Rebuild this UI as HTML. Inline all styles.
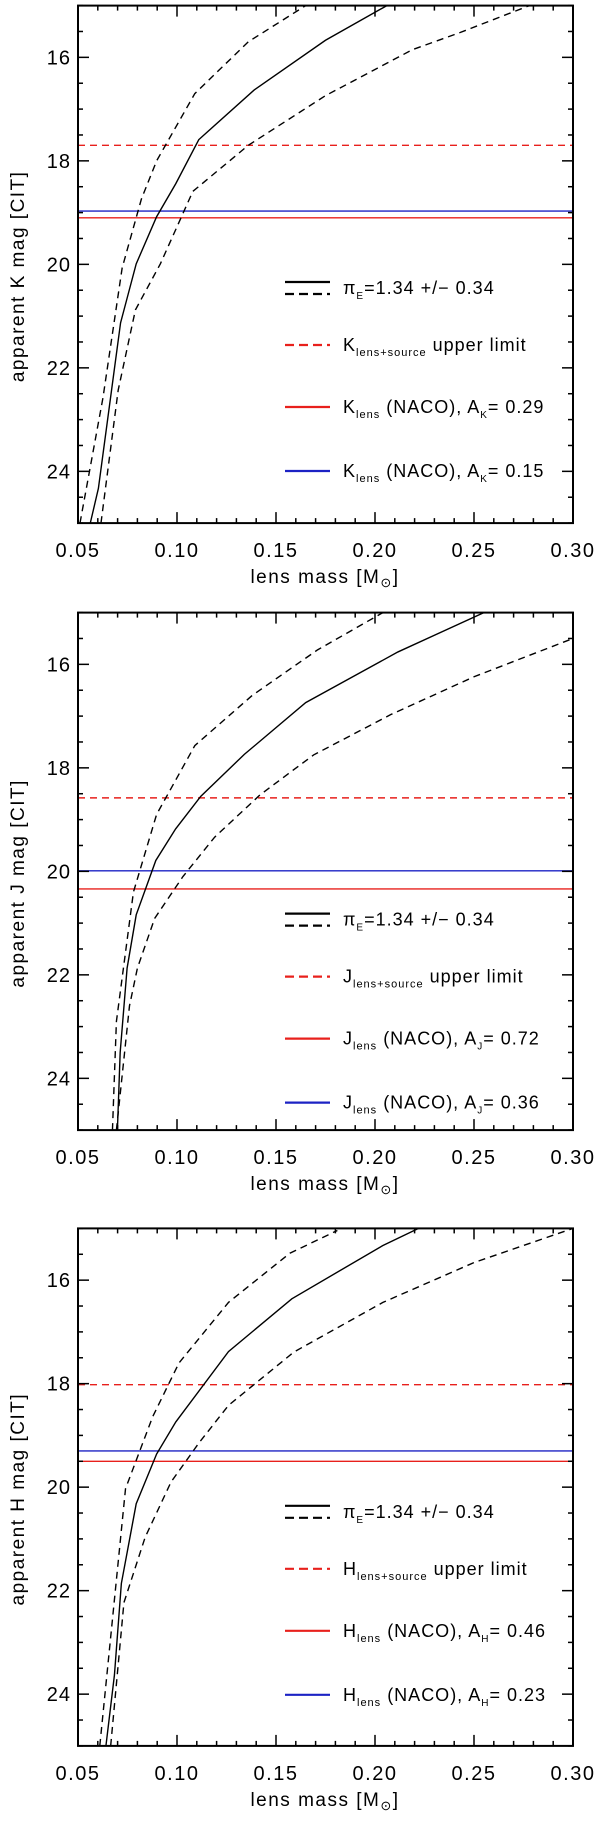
<!DOCTYPE html>
<html><head><meta charset="utf-8"><style>
html,body{margin:0;padding:0;background:#fff;}
svg{display:block;font-family:"Liberation Sans",sans-serif;}
</style></head><body>
<svg id="fig" width="600" height="1835" viewBox="0 0 600 1835" xmlns="http://www.w3.org/2000/svg"></svg>
<script>
// ---- data ----
const xTicks = [0.05, 0.10, 0.15, 0.20, 0.25, 0.30];
const xTickLabels = ["0.05", "0.10", "0.15", "0.20", "0.25", "0.30"];
const yTicks = [16, 18, 20, 22, 24];
const yTickLabels = ["16", "18", "20", "22", "24"];
const bands = ["K", "J", "H"];

// K panel
const kSolidMass = [0.0562,0.0603,0.0715,0.0794,0.0897,0.0994,0.111,0.139,0.175,0.206];
const kSolidMag  = [25,24.33,21.13,19.99,19.08,18.44,17.59,16.63,15.67,15.0];
const kUpMass = [0.051,0.0626,0.0723,0.082,0.0897,0.109,0.136,0.165];
const kUpMag  = [25,22.58,20.07,18.74,18.0,16.7,15.70,15.0];
const kLoMass = [0.0616,0.0703,0.079,0.0916,0.108,0.136,0.175,0.219,0.243,0.278];
const kLoMag  = [25,22.43,20.88,19.99,18.59,17.70,16.74,15.85,15.52,15.0];
const kLimits = [17.70, 19.10, 18.97]; // upper limit, NACO red, NACO blue
const kExt = ["0.29", "0.15"];

// J panel
const jSolidMass = [0.0699,0.0713,0.0748,0.0794,0.0893,0.0993,0.112,0.134,0.165,0.2116,0.255];
const jSolidMag  = [25,23.5,21.87,20.84,19.79,19.18,18.55,17.74,16.74,15.76,15.0];
const jUpMass = [0.0674,0.0694,0.078,0.0897,0.109,0.138,0.171,0.204];
const jUpMag  = [25,22.9,20.4,18.9,17.57,16.6,15.72,15.0];
const jLoMass = [0.0694,0.076,0.080,0.0887,0.103,0.119,0.142,0.169,0.208,0.250,0.30];
const jLoMag  = [25,22.6,21.87,20.91,20.1,19.34,18.52,17.75,16.97,16.24,15.5];
const jLimits = [18.58, 20.34, 19.99];
const jExt = ["0.72", "0.36"];

// H panel
const hSolidMass = [0.0641,0.0684,0.0719,0.0794,0.0897,0.0994,0.126,0.158,0.204,0.222];
const hSolidMag  = [25,23.63,21.86,20.32,19.36,18.74,17.38,16.36,15.33,15.0];
const hUpMass = [0.061,0.0665,0.074,0.0877,0.101,0.126,0.157,0.181];
const hUpMag  = [25,22.9,20.03,18.64,17.6,16.43,15.48,15.04];
const hLoMass = [0.0665,0.0732,0.0839,0.097,0.111,0.126,0.159,0.204,0.250,0.30];
const hLoMag  = [25,22.23,20.97,19.9,19.15,18.42,17.39,16.43,15.66,15.0];
const hLimits = [18.02, 19.50, 19.30];
const hExt = ["0.46", "0.23"];

// ---- drawing ----
const NS = "http://www.w3.org/2000/svg";
const svg = document.getElementById("fig");
const RED = "#e8201c", BLUE = "#1c22c4";
function mk(tag, attrs, parent) {
  const e = document.createElementNS(NS, tag);
  for (const k in attrs) e.setAttribute(k, attrs[k]);
  (parent || svg).appendChild(e);
  return e;
}
const X0 = 78, X1 = 573, H = 517.5;
const panelDefs = [
  {top: 5.6, band: "K", solid: [kSolidMass, kSolidMag], up: [kUpMass, kUpMag], lo: [kLoMass, kLoMag], lim: kLimits, ext: kExt, legTop: 276.4},
  {top: 612.6, band: "J", solid: [jSolidMass, jSolidMag], up: [jUpMass, jUpMag], lo: [jLoMass, jLoMag], lim: jLimits, ext: jExt, legTop: 301},
  {top: 1228.4, band: "H", solid: [hSolidMass, hSolidMag], up: [hUpMass, hUpMag], lo: [hLoMass, hLoMag], lim: hLimits, ext: hExt, legTop: 277.4}
];

panelDefs.forEach((p, pi) => {
  const xs = m => X0 + (m - 0.05) / 0.25 * (X1 - X0);
  const ys = v => p.top + (v - 15) / 10 * H;
  const g = mk("g", {});
  
  
  const clipId = "clip" + pi;
  const cp = mk("clipPath", {id: clipId}, g);
  mk("rect", {x: X0, y: p.top, width: X1 - X0, height: H}, cp);
  const plot = mk("g", {"clip-path": "url(#" + clipId + ")"}, g);

  function curve(arr, dash, name) {
    const d = arr[0].map((m, i) => (i ? "L" : "M") + xs(m).toFixed(2) + "," + ys(arr[1][i]).toFixed(2)).join(" ");
    const el = mk("path", {d: d, fill: "none", stroke: "#000", "stroke-width": 1.4, "stroke-dasharray": dash || "none"}, plot);
    
    
  }
  function hline(v, col, dash, name) {
    const el = mk("line", {x1: X0, x2: X1, y1: ys(v), y2: ys(v), stroke: col, "stroke-width": 1.4, "stroke-dasharray": dash || "none"}, plot);
    
    
  }
  hline(p.lim[0], RED, "7,5", "upper-limit-line");
  hline(p.lim[2], BLUE, null, "naco-blue-line");
  hline(p.lim[1], RED, null, "naco-red-line");
  curve(p.up, "7,5", "curve-upper-dashed");
  curve(p.lo, "7,5", "curve-lower-dashed");
  curve(p.solid, null, "curve-best-fit");

  // frame
  const fr = mk("rect", {x: X0, y: p.top, width: X1 - X0, height: H, fill: "none", stroke: "#000", "stroke-width": 2}, g);
  
  
  // x ticks
  for (let i = 0; i <= 25; i++) {
    const m = 0.05 + i * 0.01, x = xs(m), L = (i % 5 === 0) ? 11 : 5;
    mk("line", {x1: x, x2: x, y1: p.top + H, y2: p.top + H - L, stroke: "#000", "stroke-width": 1.5}, g);
    mk("line", {x1: x, x2: x, y1: p.top, y2: p.top + L, stroke: "#000", "stroke-width": 1.5}, g);
  }
  for (let i = 0; i <= 20; i++) {
    const v = 15 + i * 0.5, y = ys(v), L = (i % 4 === 2) ? 11 : 5;
    mk("line", {x1: X0, x2: X0 + L, y1: y, y2: y, stroke: "#000", "stroke-width": 1.5}, g);
    mk("line", {x1: X1, x2: X1 - L, y1: y, y2: y, stroke: "#000", "stroke-width": 1.5}, g);
  }
  xTicks.forEach((t, i) => {
    const el = mk("text", {x: xs(t), y: p.top + H + 34, "text-anchor": "middle", "font-size": 20, "letter-spacing": 1.5}, g);
    el.textContent = xTickLabels[i];
    
    
  });
  yTicks.forEach((t, i) => {
    const el = mk("text", {x: 71, y: ys(t) + 7, "text-anchor": "end", "font-size": 20, "letter-spacing": 1}, g);
    el.textContent = yTickLabels[i];
    
    
  });
  const xt = mk("text", {x: 325, y: p.top + H + 60, "text-anchor": "middle", "font-size": 19, "letter-spacing": 1.5}, g);
  xt.innerHTML = 'lens mass [M<tspan font-size="13" dy="4">⊙</tspan><tspan dy="-4">]</tspan>';
  
  
  const yc = p.top + H / 2 + 12;
  const yt = mk("text", {x: 0, y: 0, transform: "translate(24," + yc + ") rotate(-90)", "text-anchor": "middle", "font-size": 19, "letter-spacing": 1.5}, g);
  yt.textContent = "apparent " + p.band + " mag [CIT]";
  
  

  // legend
  const lx0 = 285, lx1 = 330, tx = 343;
  const ly = p.top + p.legTop;
  const leg = mk("g", {}, g);
  
  
  mk("line", {x1: lx0, x2: lx1, y1: ly, y2: ly, stroke: "#000", "stroke-width": 2.2}, leg);
  mk("line", {x1: lx0, x2: lx1, y1: ly + 12, y2: ly + 12, stroke: "#000", "stroke-width": 2.2, "stroke-dasharray": "9,5"}, leg);
  const t1 = mk("text", {x: tx, y: ly + 12, "font-size": 18, "letter-spacing": 1}, leg);
  t1.innerHTML = 'π<tspan font-size="10" dy="5">E</tspan><tspan dy="-5">=1.34  +/−  0.34</tspan>';
  
  
  const rows = [
    {dy: 63, col: RED, dash: "9,5", html: p.band + '<tspan font-size="11" dy="5">lens+source</tspan><tspan dy="-5"> upper limit</tspan>', name: 'legend-entry-upper-limit'},
    {dy: 125, col: RED, dash: null, html: p.band + '<tspan font-size="11" dy="5">lens</tspan><tspan dy="-5"> (NACO), A</tspan><tspan font-size="10" dy="5">' + p.band + '</tspan><tspan dy="-5">=  ' + p.ext[0] + '</tspan>', name: 'legend-entry-naco-red'},
    {dy: 189, col: BLUE, dash: null, html: p.band + '<tspan font-size="11" dy="5">lens</tspan><tspan dy="-5"> (NACO), A</tspan><tspan font-size="10" dy="5">' + p.band + '</tspan><tspan dy="-5">=  ' + p.ext[1] + '</tspan>', name: 'legend-entry-naco-blue'}
  ];
  rows.forEach(r => {
    const y = ly + r.dy;
    mk("line", {x1: lx0, x2: lx1, y1: y, y2: y, stroke: r.col, "stroke-width": 2.2, "stroke-dasharray": r.dash || "none"}, leg);
    const t = mk("text", {x: tx, y: y + 6, "font-size": 18, "letter-spacing": 1}, leg);
    t.innerHTML = r.html;
    
    
  });
});
</script>
</body></html>
